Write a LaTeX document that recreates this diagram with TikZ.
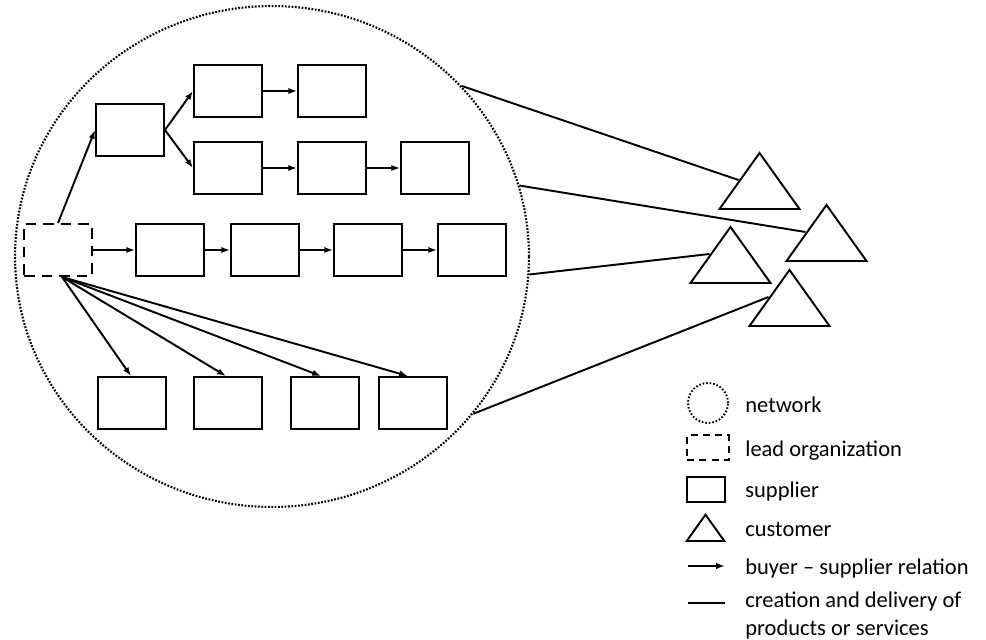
\documentclass[tikz,border=0pt]{standalone}
\usepackage{fontspec}
\setmainfont{Carlito}
\usetikzlibrary{arrows.meta,shapes.geometric,calc}
\begin{document}
\begin{tikzpicture}[x=0.02cm,y=-0.02cm,
  rel/.style={line width=1.1pt},
  buy/.style={rel,-{Latex[length=5pt,width=3.6pt]}},
  supplier/.style={draw,line width=1.1pt,minimum width=1.36cm,minimum height=1.04cm,inner sep=0pt},
  leadorg/.style={supplier,dash pattern=on 6pt off 4pt},
  netw/.style={draw,ellipse,line width=1.2pt,dash pattern=on 1pt off 0.9pt,inner sep=0pt},
  legendtext/.style={anchor=base west,inner sep=0pt,font=\fontsize{12.8}{16}\selectfont},
  customer/.pic={\draw[line width=1.1pt,line join=miter] (-40,0) -- (40,0) -- (0,-56) -- cycle;
                 \coordinate (-in) at (-21,-29);}
]
\useasboundingbox (0,0) rectangle (986,639);

% the network
\node[netw,minimum width=10.28cm,minimum height=10.02cm] (net) at (272,256.5) {};

% lead organization and its suppliers
\node[leadorg] (lead) at (58,250) {};
\node[supplier] (a)  at (130,130) {};
\node[supplier] (b1) at (228,91) {};
\node[supplier] (c1) at (332,91) {};
\node[supplier] (b2) at (228,168) {};
\node[supplier] (c2) at (332,168) {};
\node[supplier] (d2) at (435,168) {};
\node[supplier] (r1) at (170,250) {};
\node[supplier] (r2) at (265,250) {};
\node[supplier] (r3) at (368,250) {};
\node[supplier] (r4) at (472,250) {};
\node[supplier] (s1) at (132,403) {};
\node[supplier] (s2) at (228,403) {};
\node[supplier] (s3) at (325,403) {};
\node[supplier] (s4) at (413,403) {};

% buyer - supplier relations
\draw[buy] (lead.north) -- (a.west);
\draw[buy] (a.east) -- (b1.west);
\draw[buy] (a.east) -- (b2.west);
\draw[buy] (b1) -- (c1);
\draw[buy] (b2) -- (c2);
\draw[buy] (c2) -- (d2);
\draw[buy] (lead) -- (r1);
\draw[buy] (r1) -- (r2);
\draw[buy] (r2) -- (r3);
\draw[buy] (r3) -- (r4);
\draw[buy] ([xshift=0.08cm]lead.south) -- ([xshift=-0.02cm]s1.north);
\draw[buy] ([xshift=0.08cm]lead.south) -- ([xshift=-0.04cm]s2.north);
\draw[buy] ([xshift=0.08cm]lead.south) -- ([xshift=-0.08cm]s3.north);
\draw[buy] ([xshift=0.08cm]lead.south) -- ([xshift=-0.10cm]s4.north);

% customers
\pic (t1) at (759.5,209) {customer};
\pic (t2) at (826.5,261) {customer};
\pic (t3) at (730.5,283) {customer};
\pic (t4) at (789.5,326) {customer};

% creation and delivery of products or services
\draw[rel] (net.42.8) -- (t1-in);
\draw[rel] (net.16.6) -- (t2-in);
\draw[rel] (net.-4.5) -- (t3-in);
\draw[rel] (net.-38.6) -- (t4-in);

% legend
\node[netw,circle,line width=1.1pt,dash pattern=on 0.9pt off 1.1pt,minimum size=0.8cm] (lnet) at (708,403) {};
\node[leadorg,minimum width=0.84cm,minimum height=0.5cm,dash pattern=on 4pt off 3pt] (llead) at (708,447.5) {};
\node[supplier,minimum width=0.76cm,minimum height=0.5cm] (lsup) at (706,489.5) {};
\pic[scale=0.47] (lcus) at (705.5,541) {customer};
\coordinate (la0) at (688,566);
\coordinate (la1) at (725,566);
\coordinate (ll0) at (688,603);
\coordinate (ll1) at (725,603);
\draw[buy] (la0) -- (la1);
\draw[rel] (ll0) -- (ll1);

\node[legendtext] (tnet)  at (745,412) {network};
\node[legendtext] (tlead) at (745,456) {lead organization};
\node[legendtext] (tsup)  at (745,497) {supplier};
\node[legendtext] (tcus)  at (745,536) {customer};
\node[legendtext] (tbuy)  at (745,574) {buyer – supplier relation};
\node[legendtext] (tcre)  at (745,607) {creation and delivery of};
\node[legendtext] (tprod) at (745,635) {products or services};
\end{tikzpicture}
\end{document}
